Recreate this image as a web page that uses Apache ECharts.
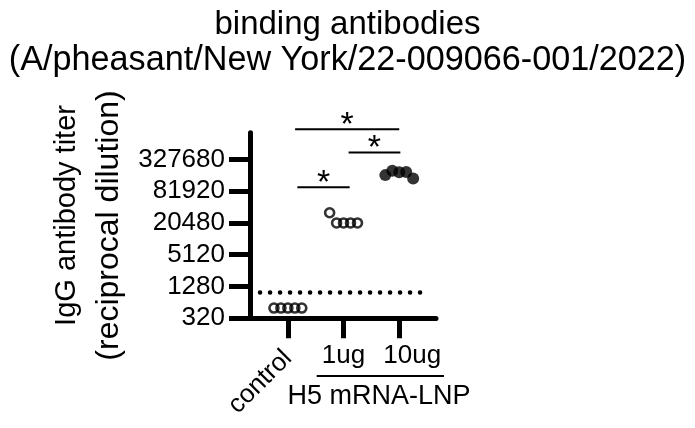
<!DOCTYPE html>
<html>
<head>
<meta charset="utf-8">
<script src="https://cdn.jsdelivr.net/npm/echarts@6/dist/echarts.min.js"></script>
<style>
html,body{margin:0;padding:0;background:#fff}
#chart{width:695px;height:428px}
</style>
</head>
<body>
<div id="chart"></div>
<script>
// groups on the x axis
const groups = ['control', '1ug', '10ug'];
// titers per group (reciprocal dilution)
const controlTiters = [500, 500, 500, 500, 500];
const ug1Titers = [32000, 20480, 20480, 20480, 20480];
const ug10Titers = [165000, 200000, 188000, 190000, 143000];
// y tick labels
const tickTiters = [320, 1280, 5120, 20480, 81920, 327680];
// limit of detection
const detectionLimit = 1000;
// significance brackets: group span and bracket height (as titer)
const bracketFrom = [0.13, 1.09, 0.17];
const bracketTo = [2.0, 2.02, 1.11];
const bracketTiter = [1220000, 444000, 96700];

const font = 'Liberation Sans';
const toAxis = v => Math.log(v / 320) / Math.log(4);
const spread = 0.125;

function points(titers, g) {
    const n = titers.length;
    return titers.map((t, i) => [g + (i - (n - 1) / 2) * spread, toAxis(t)]);
}

const chart = echarts.init(document.getElementById('chart'));

const xBase = {
    type: 'value', min: -0.68, max: 2.66, position: 'bottom',
    splitLine: {show: false}
};

const option = {
    animation: false,
    title: {
        text: '{a|binding antibodies}\n{b|(A/pheasant/New York/22-009066-001/2022)}',
        left: 'center', top: 7, padding: 0,
        textStyle: {
            fontWeight: 'normal',
            rich: {
                a: {fontFamily: font, fontSize: 33, lineHeight: 36, fontWeight: 'normal', color: '#000'},
                b: {fontFamily: font, fontSize: 34.2, lineHeight: 36, fontWeight: 'normal', color: '#000'}
            }
        }
    },
    grid: {left: 250, right: 259, top: 132.7, bottom: 109.7},
    xAxis: [
        Object.assign({}, xBase, {
            axisLine: {onZero: false, lineStyle: {color: '#000', width: 5}},
            axisTick: {length: 20, lineStyle: {color: '#000', width: 5}, customValues: [0, 1, 2]},
            axisLabel: {
                customValues: [0], rotate: 45, margin: 36, padding: [36, 0, 0, 0],
                fontFamily: font, fontSize: 26, color: '#000',
                formatter: v => groups[Math.round(v)]
            }
        }),
        Object.assign({}, xBase, {
            axisLine: {show: false, onZero: false},
            axisTick: {show: false, customValues: [1, 2]},
            axisLabel: {
                customValues: [1, 2], margin: 25,
                fontFamily: font, fontSize: 26, color: '#000',
                formatter: v => Math.round(v) === 2 ? '{b|' + groups[2] + '}' : groups[Math.round(v)],
                rich: {b: {fontFamily: font, fontSize: 26, color: '#000', padding: [0, 0, 0, 26]}}
            }
        })
    ],
    yAxis: {
        type: 'value', min: 0, max: 5.84,
        splitLine: {show: false},
        axisLine: {show: true, onZero: false, lineStyle: {color: '#000', width: 5}},
        axisTick: {show: true, length: 21, lineStyle: {color: '#000', width: 5},
            customValues: tickTiters.map(toAxis)},
        axisLabel: {
            customValues: tickTiters.map(toAxis), margin: 25,
            fontFamily: font, fontSize: 26, color: '#000',
            formatter: v => String(tickTiters[Math.round(v)])
        },
        name: '{a|IgG antibody titer}\n{b|(reciprocal dilution)}',
        nameLocation: 'middle', nameGap: 120,
        nameTextStyle: {
            rich: {
                a: {fontFamily: font, fontSize: 29, lineHeight: 42, color: '#000', padding: [0, 0, 0, 20]},
                b: {fontFamily: font, fontSize: 32, lineHeight: 42, color: '#000'}
            }
        }
    },
    graphic: [
        {type: 'line', shape: {x1: 316.7, y1: 376, x2: 444, y2: 376}, style: {stroke: '#000', lineWidth: 2}},
        {type: 'text', x: 379, y: 396.5, style: {text: 'H5 mRNA-LNP', fontFamily: font, fontSize: 27, fill: '#000', textAlign: 'center', textVerticalAlign: 'middle'}}
    ],
    series: [
        {
            type: 'scatter', clip: false, symbol: 'circle', symbolSize: 9,
            itemStyle: {color: 'rgba(0,0,0,0)', borderColor: '#000', borderWidth: 2.6},
            data: points(controlTiters, 0),
            markLine: {
                silent: true, symbol: 'none', label: {show: false},
                lineStyle: {color: '#000', width: 4.5, type: [0.1, 9.9], cap: 'round'},
                data: [[{coord: [-0.5, toAxis(detectionLimit)]}, {coord: [2.53, toAxis(detectionLimit)]}]]
            }
        },
        {
            type: 'scatter', clip: false, symbol: 'circle', symbolSize: 9,
            itemStyle: {color: 'rgba(0,0,0,0)', borderColor: '#000', borderWidth: 2.6},
            data: points(ug1Titers, 1)
        },
        {
            type: 'scatter', clip: false, symbol: 'circle', symbolSize: 12,
            itemStyle: {color: '#000'},
            data: points(ug10Titers, 2)
        },
        {
            // significance brackets with asterisks
            type: 'custom', clip: false, silent: true,
            encode: {x: [0, 1], y: 2},
            data: bracketFrom.map((f, i) => [f, bracketTo[i], toAxis(bracketTiter[i])]),
            renderItem: (params, api) => {
                const p1 = api.coord([api.value(0), api.value(2)]);
                const p2 = api.coord([api.value(1), api.value(2)]);
                return {
                    type: 'group',
                    children: [
                        {type: 'line', shape: {x1: p1[0], y1: p1[1], x2: p2[0], y2: p2[1]},
                            style: {stroke: '#000', lineWidth: 2}},
                        {type: 'text', x: (p1[0] + p2[0]) / 2, y: p1[1] - 3.5,
                            style: {text: '*', fontFamily: font, fontSize: 34, fill: '#000',
                                textAlign: 'center', textVerticalAlign: 'middle'}}
                    ]
                };
            }
        }
    ]
};
chart.setOption(option);
</script>
</body>
</html>
